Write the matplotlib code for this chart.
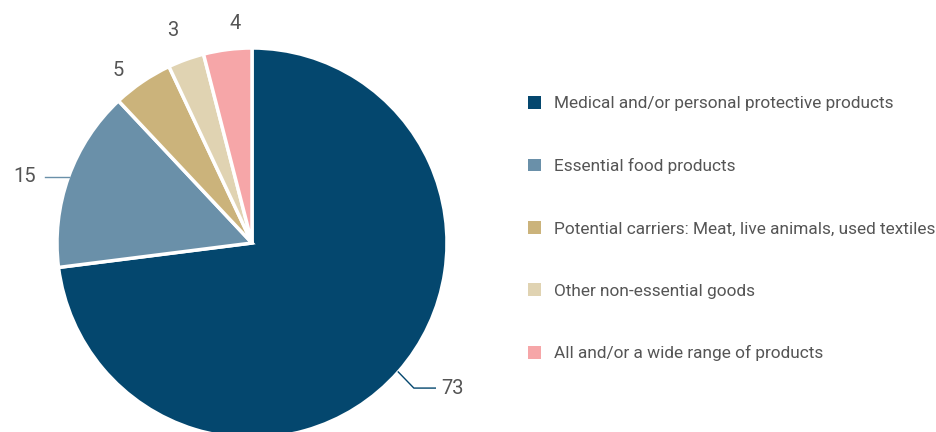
import matplotlib
matplotlib.use("Agg")
import matplotlib.pyplot as plt
from matplotlib.patches import Patch
import numpy as np

plt.rcParams['font.family'] = ['Roboto', 'DejaVu Sans']

categories = [
    "Medical and/or personal protective products",
    "Essential food products",
    "Potential carriers: Meat, live animals, used textiles",
    "Other non-essential goods",
    "All and/or a wide range of products",
]
values = [73, 15, 5, 3, 4]
colors = ["#04476e", "#6a90a9", "#cbb37b", "#e0d3b2", "#f6a6a8"]
text_color = "#555555"

W, H = 936, 432
fig = plt.figure(figsize=(W / 100, H / 100), dpi=100)

# pie centre (252, 243) px, radius 195 px
cx, cy, r = 252, 243, 195
ax = fig.add_axes([(cx - r) / W, (H - cy - r) / H, 2 * r / W, 2 * r / H])
wedges, _ = ax.pie(values, colors=colors, startangle=90, counterclock=False,
                   wedgeprops=dict(edgecolor="white", linewidth=2.5))
ax.set_xlim(-1, 1)
ax.set_ylim(-1, 1)
ax.set_aspect('equal')
ax.axis('off')

# value labels (small label nudges for the three thin slices)
label_shift = {2: (3.5, 1.12), 3: (0.6, 1.16), 4: (-2.8, 1.13)}
cum = np.cumsum([0] + values[:-1])
total = sum(values)
for i, (v, c) in enumerate(zip(values, cum)):
    mid = 90 - (c + v / 2) / total * 360
    ang = np.deg2rad(mid)
    ex, ey = np.cos(ang), np.sin(ang)
    if i == 0:
        ax.plot([ex, 0.83, 0.94], [ey, -0.744, -0.744], color=colors[0], lw=1, clip_on=False)
        ax.text(0.97, -0.744, str(v), ha='left', va='center', fontsize=14.5, color=text_color)
    elif i == 1:
        ax.plot([ex, -1.06], [ey, ey], color=colors[1], lw=1, clip_on=False)
        ax.text(-1.11, ey, str(v), ha='right', va='center', fontsize=14.5, color=text_color)
    else:
        da, rr = label_shift[i]
        a2 = np.deg2rad(mid + da)
        ax.text(rr * np.cos(a2), rr * np.sin(a2), str(v), ha='center', va='center',
                fontsize=14.5, color=text_color)

handles = [Patch(facecolor=col, edgecolor='none') for col in colors]
leg = fig.legend(handles, categories, loc='upper left', bbox_to_anchor=(528 / W, 1 - 96 / H),
                 frameon=False, fontsize=12.4, labelspacing=2.72, handlelength=0.75,
                 handleheight=0.75, handletextpad=0.75, borderpad=0, borderaxespad=0)
for t in leg.get_texts():
    t.set_color(text_color)

fig.savefig("out.png", dpi=100)
